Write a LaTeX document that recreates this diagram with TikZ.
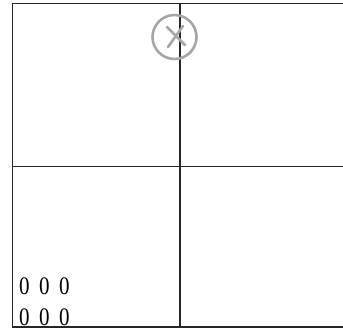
\documentclass[tikz,border=0pt]{standalone}
\usepackage{fontspec}
\setmainfont{Liberation Serif}
\begin{document}
\begin{tikzpicture}[x=1pt,y=-1pt,
  frameline/.style={line width=1.9pt,black!85},
  pencil/.style={line width=2.6pt,gray!70,line cap=round},
  digits/.style={anchor=base west,inner sep=0pt,font=\fontsize{21}{21}\selectfont}]
\useasboundingbox (0,0) rectangle (343,330);
% frame
\draw[frameline] (343,3.5) -- (12.5,3.5) -- (12.5,327) -- (343,327);
\draw[frameline] (12.5,166.5) -- (343,166.5);
\draw[frameline] (180,3.5) -- (180,327);
% circled cross
\draw[pencil] (174.5,37) circle (22);
\draw[pencil] (167,27) -- (185,45);
\draw[pencil] (183,26) -- (168,47);
% digits
\node[digits] (r1) at (19,294) {\scalebox{1}[1.2]{0\hspace{9.5pt}0\hspace{9.5pt}0}};
\node[digits] (r2) at (19,325) {\scalebox{1}[1.2]{0\hspace{9.5pt}0\hspace{9.5pt}0}};
\end{tikzpicture}
\end{document}
